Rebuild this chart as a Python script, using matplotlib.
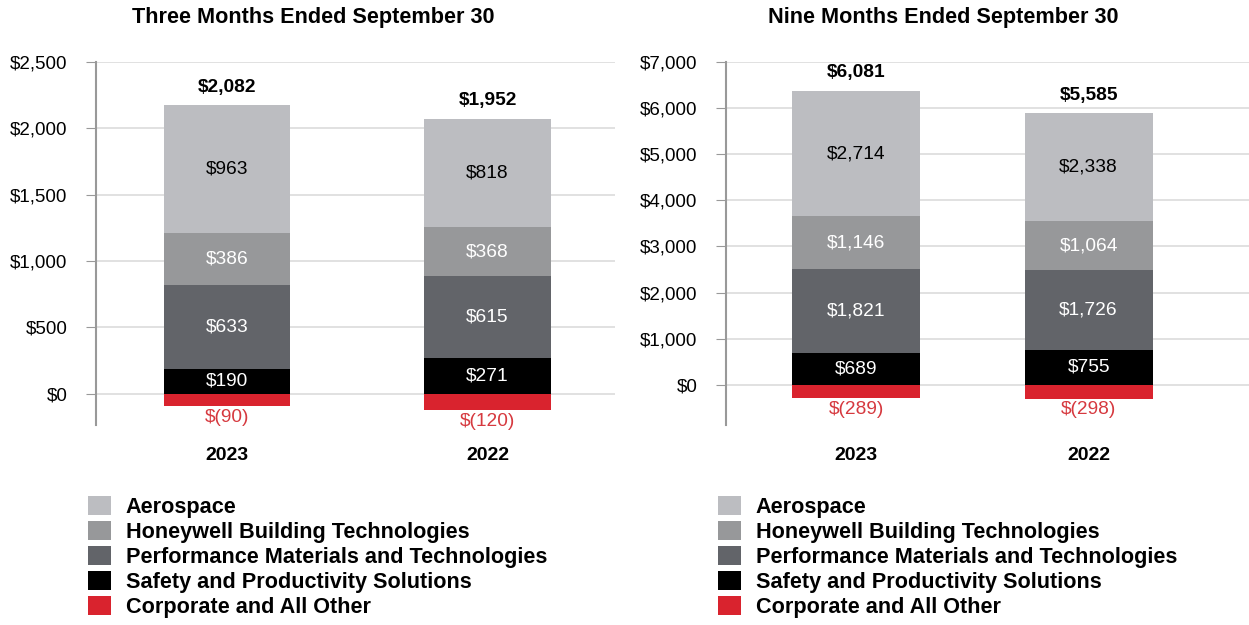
import matplotlib.pyplot as plt
from matplotlib.patches import Patch
import numpy as np

plt.rcParams['font.family'] = ['Liberation Sans', 'DejaVu Sans']

years = ['2023', '2022']
segments = ['Aerospace', 'Honeywell Building Technologies',
            'Performance Materials and Technologies',
            'Safety and Productivity Solutions', 'Corporate and All Other']
colors = ['#BCBDC1', '#97989A', '#626469', '#000000', '#D9232E']
label_colors = ['#000000', '#ffffff', '#ffffff', '#ffffff', '#D6393F']

# three months
q_aero = [963, 818]
q_hbt = [386, 368]
q_pmt = [633, 615]
q_sps = [190, 271]
q_corp = [-90, -120]
q_total = [2082, 1952]

# nine months
n_aero = [2714, 2338]
n_hbt = [1146, 1064]
n_pmt = [1821, 1726]
n_sps = [689, 755]
n_corp = [-289, -298]
n_total = [6081, 5585]


def money(v):
    if v < 0:
        return f'$({-v:,.0f})'
    return f'${v:,.0f}'


def draw(ax, data, totals, ylim, step, width):
    x = np.arange(len(years))
    pos = [data[3], data[2], data[1], data[0]]  # stacking order from bottom
    pos_cols = [colors[3], colors[2], colors[1], colors[0]]
    pos_lab = [label_colors[3], label_colors[2], label_colors[1], label_colors[0]]
    bottom = np.zeros(len(years))
    for vals, c, lc in zip(pos, pos_cols, pos_lab):
        vals = np.array(vals, dtype=float)
        ax.bar(x, vals, width, bottom=bottom, color=c, zorder=3)
        for xi, b, v in zip(x, bottom, vals):
            ax.text(xi, b + v / 2, money(v), ha='center', va='center',
                    color=lc, fontsize=13.8, zorder=4)
        bottom += vals
    corp = np.array(data[4], dtype=float)
    ax.bar(x, corp, width, color=colors[4], zorder=3)
    for xi, v in zip(x, corp):
        ax.annotate(money(v), (xi, v), xytext=(0, -2), textcoords='offset points',
                    ha='center', va='top', color=label_colors[4], fontsize=13.8)
    for xi, top, t in zip(x, bottom, totals):
        ax.annotate(money(t), (xi, top), xytext=(0, 7), textcoords='offset points',
                    ha='center', va='bottom', fontweight='bold', fontsize=13.8)

    ax.set_ylim(*ylim)
    ticks = np.arange(0, ylim[1] + 1, step)
    ax.set_yticks(ticks)
    ax.set_yticklabels([money(v) for v in ticks])
    ax.set_xticks(x)
    ax.set_xticklabels(years, fontweight='bold', fontsize=14)
    ax.tick_params(axis='x', length=0, pad=15.5)
    ax.tick_params(axis='y', length=7, color='#999999', labelsize=13.5, pad=13.5)
    ax.yaxis.grid(True, color='#dcdcdc', linewidth=1.2, zorder=0)
    for s in ['top', 'right', 'bottom']:
        ax.spines[s].set_visible(False)
    ax.spines['left'].set_color('#999999')
    ax.spines['left'].set_linewidth(1.5)

    handles = [Patch(facecolor=c, edgecolor='none') for c in colors]
    ax.legend(handles, segments, loc='upper left', bbox_to_anchor=(-0.0155, -0.196),
              frameon=False, prop={'weight': 'bold', 'size': 15.6},
              handlelength=1.05, handleheight=0.95, handletextpad=0.7,
              labelspacing=0.15, borderaxespad=0, borderpad=0)


fig = plt.figure(figsize=(12.49, 6.25), dpi=100)
ax1 = fig.add_axes([96 / 1249, 0.32, 519 / 1249, 0.581])
ax2 = fig.add_axes([726 / 1249, 0.32, 523 / 1249, 0.581])

draw(ax1, [q_aero, q_hbt, q_pmt, q_sps, q_corp], q_total, (-235, 2500), 500, 0.485)
ax1.set_xlim(-0.505, 1.49)
draw(ax2, [n_aero, n_hbt, n_pmt, n_sps, n_corp], n_total, (-870, 7000), 1000, 0.55)
ax2.set_xlim(-0.56, 1.69)

fig.text(313 / 1249, 1 - 17 / 625, 'Three Months Ended September 30',
         ha='center', va='center', fontweight='bold', fontsize=15.6)
fig.text(943 / 1249, 1 - 17 / 625, 'Nine Months Ended September 30',
         ha='center', va='center', fontweight='bold', fontsize=15.6)

fig.savefig('out.png', dpi=100)
